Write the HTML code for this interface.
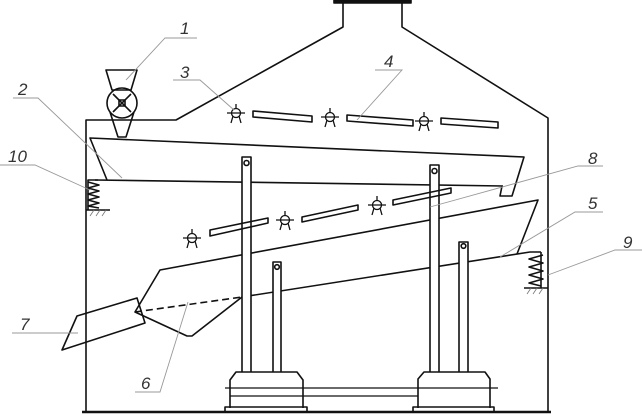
<!DOCTYPE html>
<html><head><meta charset="utf-8"><style>
html,body{margin:0;padding:0;background:#fff;}
svg{display:block}
text{font-family:"Liberation Sans",sans-serif;font-style:italic;font-size:17px;fill:#333}
</style></head><body>
<svg width="642" height="418" viewBox="0 0 642 418" xmlns="http://www.w3.org/2000/svg">
<g fill="none" stroke="#111" stroke-width="1.6" stroke-linejoin="round">
<!-- housing -->
<polyline points="86,412 86,120 176,120 343,27 343,3"/>
<polyline points="402,3 402,27 548,118 548,412"/>
<rect x="334" y="0" width="77" height="3" fill="#111"/>
<line x1="82" y1="412" x2="551" y2="412" stroke-width="2.5"/>
<!-- feeder 1 -->
<polygon points="106,70 137,70 131,90 112,90"/>
<circle cx="122" cy="103" r="15"/>
<polyline points="110,112 118,137 126,137 134,112"/>
<line x1="113" y1="94" x2="131" y2="112"/><line x1="131" y1="94" x2="113" y2="112"/>
<rect x="119" y="100" width="6" height="6"/>
<!-- upper sieve 2 -->
<polyline points="503,186 95,180"/>
<polyline points="107,180 90,138 524,157 512,196 500,196 502,186"/>
<!-- spring 10 -->
<polyline points="98,180 88,180 88,210"/>
<polyline points="88,182 99,185 88,188 99,191 88,194 99,197 88,200 99,203 88,206 99,208"/>
<line x1="86" y1="210" x2="110" y2="210"/>
<!-- lower sieve 5 -->
<polyline points="242,297 530,252 541,252"/>
<polyline points="517,254 538,200 160,270 135,312 187,336 192,336 242,297"/>
<line x1="135" y1="312" x2="242" y2="297" stroke-dasharray="7,4"/>
<!-- spring 9 -->
<polyline points="541,252 541,288"/>
<polyline points="543,255 529,259 543,263 529,267 543,271 529,275 543,279 529,283 541,286"/>
<line x1="524" y1="288" x2="548" y2="288"/>
<!-- chute 7 -->
<polygon points="77,316 137,298 145,323 62,350"/>
<!-- rods -->
<rect x="242" y="157" width="9" height="238" fill="#fff"/>
<circle cx="246.5" cy="163" r="2.5"/>
<rect x="273" y="262" width="8" height="140" fill="#fff"/>
<circle cx="277" cy="267" r="2.3"/>
<rect x="430" y="165" width="9" height="208" fill="#fff"/>
<circle cx="434.5" cy="171" r="2.5"/>
<rect x="459" y="242" width="9" height="131" fill="#fff"/>
<circle cx="463.5" cy="246" r="2.3"/>
<!-- bases -->
<path d="M230,408 V380 L236,372 H297 L303,380 V408" fill="#fff"/>
<rect x="225" y="407" width="82" height="5"/>
<path d="M418,408 V379 L424,372 H485 L490,379 V408" fill="#fff"/>
<rect x="413" y="407" width="81" height="5"/>
<line x1="225" y1="388" x2="498" y2="388" stroke-width="1.2"/>
<line x1="230" y1="396" x2="418" y2="396" stroke-width="1.2"/>
<!-- slats -->
<polygon points="253,111 312,116 312,122 253,117"/>
<polygon points="347,115 413,120 413,126 347,121"/>
<polygon points="441,118 498,122 498,128 441,124"/>
<polygon points="210,230 268,218 268,223 210,236"/>
<polygon points="302,217 358,205 358,210 302,222"/>
<polygon points="393,200 451,188 451,193 393,205"/>
</g>
<!-- fans -->
<g fill="none" stroke="#111" stroke-width="1.3">
<g transform="translate(236,113)"><circle r="4.5"/><path d="M-3,3 L-5,10 M3,3 L5,10 M0,-4.5 V-9 M-9,0 H9"/></g>
<g transform="translate(330,117)"><circle r="4.5"/><path d="M-3,3 L-5,10 M3,3 L5,10 M0,-4.5 V-9 M-9,0 H9"/></g>
<g transform="translate(424,121)"><circle r="4.5"/><path d="M-3,3 L-5,10 M3,3 L5,10 M0,-4.5 V-9 M-9,0 H9"/></g>
<g transform="translate(192,238)"><circle r="4.5"/><path d="M-3,3 L-5,10 M3,3 L5,10 M0,-4.5 V-9 M-9,0 H9"/></g>
<g transform="translate(285,220)"><circle r="4.5"/><path d="M-3,3 L-5,10 M3,3 L5,10 M0,-4.5 V-9 M-9,0 H9"/></g>
<g transform="translate(377,205)"><circle r="4.5"/><path d="M-3,3 L-5,10 M3,3 L5,10 M0,-4.5 V-9 M-9,0 H9"/></g>
</g>
<!-- hatching -->
<g stroke="#777" stroke-width="0.8">
<path d="M90,216 l4,-6 M96,216 l4,-6 M102,216 l4,-6 M527,294 l4,-6 M533,294 l4,-6 M539,294 l4,-6"/>
</g>
<!-- leaders -->
<g stroke="#999" stroke-width="0.9" fill="none">
<polyline points="197,38 165,38 126,80"/>
<polyline points="13,98 38,98 122,178"/>
<polyline points="173,80 200,80 234,110"/>
<polyline points="375,70 402,70 357,120"/>
<polyline points="603,166 578,166 430,207"/>
<polyline points="603,212 575,212 500,257"/>
<polyline points="642,250 615,250 548,275"/>
<polyline points="0,165 35,165 90,190"/>
<polyline points="12,333 78,333"/>
<polyline points="135,392 160,392 188,302"/>
</g>
<text x="180" y="34">1</text>
<text x="18" y="95">2</text>
<text x="180" y="78">3</text>
<text x="384" y="67">4</text>
<text x="588" y="209">5</text>
<text x="141" y="389">6</text>
<text x="20" y="330">7</text>
<text x="588" y="164">8</text>
<text x="623" y="248">9</text>
<text x="8" y="162">10</text>
</svg>
</body></html>
